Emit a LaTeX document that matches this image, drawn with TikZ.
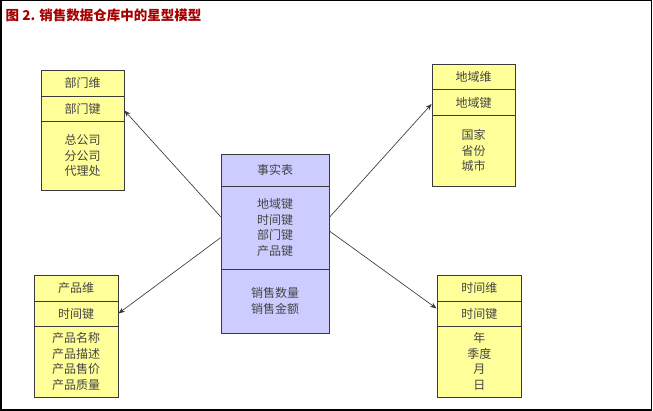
\documentclass[tikz,border=0pt]{standalone}
\usepackage{fontspec}
\setmainfont{Noto Sans CJK SC}
\usetikzlibrary{arrows.meta}
\definecolor{dimfill}{HTML}{FFFF99}
\definecolor{factfill}{HTML}{CCCCFF}
\definecolor{edge}{HTML}{3A3A3A}
\definecolor{txt}{HTML}{444444}
\definecolor{titlered}{HTML}{A50000}
\begin{document}
\begin{tikzpicture}[x=1pt,y=-1pt,
  cell/.style={draw=edge, line width=0.8pt, rectangle, inner sep=0pt, align=center, text=txt,
               font=\fontsize{12}{15.5}\selectfont},
  dim/.style={cell, fill=dimfill},
  fact/.style={cell, fill=factfill},
  link/.style={draw=edge, line width=0.65pt, -{Stealth[length=6.5pt,width=5pt]}}]
\path[use as bounding box] (0,0) rectangle (653,411);
\fill[white] (0,0) rectangle (653,411);
\draw[line width=1.5pt] (0.75,0.75) rectangle (651.5,410);

\node[anchor=west, text=titlered, font=\fontsize{13.5}{16}\selectfont\bfseries, inner sep=0pt] (title) at (5.5,15) {图 2. 销售数据仓库中的星型模型};

% department dimension
\node[dim, minimum width=83pt, minimum height=26pt] (dn) at (82.5,83) {部门维};
\node[dim, minimum width=83pt, minimum height=25pt] (dk) at (82.5,108.5) {部门键};
\node[dim, minimum width=83pt, minimum height=69pt] (da) at (82.5,155.5) {总公司\\分公司\\代理处};

% region dimension
\node[dim, minimum width=83pt, minimum height=25.5pt] (rn) at (473.5,76.75) {地域维};
\node[dim, minimum width=83pt, minimum height=26pt] (rk) at (473.5,102.5) {地域键};
\node[dim, minimum width=83pt, minimum height=70.5pt] (ra) at (473.5,150.75) {国家\\省份\\城市};

% fact table
\node[fact, minimum width=108pt, minimum height=32pt] (fn) at (275,170) {事实表};
\node[fact, minimum width=108pt, minimum height=83pt] (fk) at (275,227.5) {地域键\\时间键\\部门键\\产品键};
\node[fact, minimum width=108pt, minimum height=64pt] (fm) at (275,301) {销售数量\\销售金额};

% product dimension
\node[dim, minimum width=84pt, minimum height=26pt] (pn) at (76,288) {产品维};
\node[dim, minimum width=84pt, minimum height=25pt] (pk) at (76,313.5) {时间键};
\node[dim, minimum width=84pt, minimum height=71pt] (pa) at (76,361.5) {产品名称\\产品描述\\产品售价\\产品质量};

% time dimension
\node[dim, minimum width=84.5pt, minimum height=26pt] (tn) at (479.25,288) {时间维};
\node[dim, minimum width=84.5pt, minimum height=25pt] (tk) at (479.25,313.5) {时间键};
\node[dim, minimum width=84.5pt, minimum height=71pt] (ta) at (479.25,361.5) {年\\季度\\月\\日};

% connectors
\draw[link] ([yshift=10.8pt]fk.west) -- ([yshift=-2pt]dk.east);
\draw[link] ([yshift=-10.2pt]fk.west) -- (pk.east);
\draw[link] ([yshift=10.2pt]fk.east) -- ([yshift=-1.5pt]rk.west);
\draw[link] ([yshift=-3.5pt]fk.east) -- ([yshift=5pt]tk.west);
\end{tikzpicture}
\end{document}
